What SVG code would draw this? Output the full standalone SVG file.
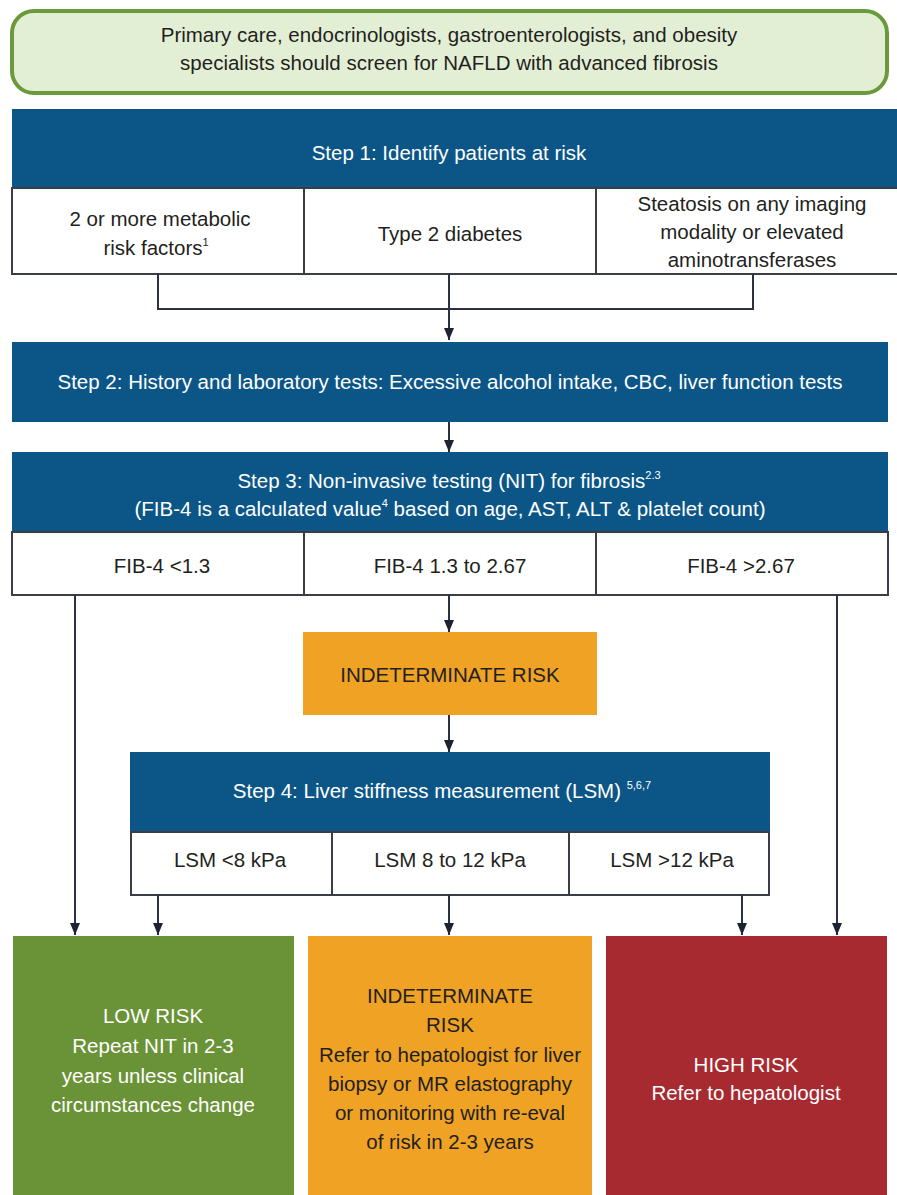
<svg xmlns="http://www.w3.org/2000/svg" width="897" height="1195" viewBox="0 0 897 1195">
<style>
text{font-family:"Liberation Sans",Arial,sans-serif;font-size:20.5px;text-anchor:middle}
.w{fill:#ffffff}
.d{fill:#231f20}
.blue{fill:#0b5687}
.cell{fill:#ffffff;stroke:#3a3d45;stroke-width:2}
.con{fill:none;stroke:#2b3140;stroke-width:2}
.sup{font-size:11px}
</style>
<defs>
<marker id="ah" viewBox="0 0 12 10" refX="12" refY="5" markerWidth="12" markerHeight="10" markerUnits="userSpaceOnUse" orient="auto">
<path d="M0,0 L12,5 L0,10 Z" fill="#1c2333"/>
</marker>
</defs>
<rect width="897" height="1195" fill="#ffffff"/>

<g id="screen">
<rect x="12" y="11" width="875" height="82" rx="22" fill="#e3efd5" stroke="#6a9a3c" stroke-width="4"/>
<text x="449" y="42" class="d">Primary care, endocrinologists, gastroenterologists, and obesity</text>
<text x="449" y="70" class="d">specialists should screen for NAFLD with advanced fibrosis</text>
</g>

<g id="step1">
<rect x="12" y="109" width="890" height="80" class="blue"/>
<text x="449" y="160" class="w">Step 1: Identify patients at risk</text>
<rect x="12" y="188" width="292" height="86" class="cell"/>
<rect x="304" y="188" width="292" height="86" class="cell"/>
<rect x="596" y="188" width="306" height="86" class="cell"/>
<text x="160" y="226" class="d">2 or more metabolic</text>
<text x="156" y="255" class="d">risk factors<tspan class="sup" dy="-9">1</tspan></text>
<text x="450" y="241" class="d">Type 2 diabetes</text>
<text x="752" y="211" class="d">Steatosis on any imaging</text>
<text x="752" y="239" class="d">modality or elevated</text>
<text x="752" y="267" class="d">aminotransferases</text>
</g>

<g id="step2">
<rect x="12" y="342" width="876" height="80" class="blue"/>
<text x="450" y="389" class="w">Step 2: History and laboratory tests: Excessive alcohol intake, CBC, liver function tests</text>
</g>

<g id="step3">
<rect x="12" y="452" width="876" height="80" class="blue"/>
<text x="449" y="488" class="w">Step 3: Non-invasive testing (NIT) for fibrosis<tspan class="sup" dy="-9">2.3</tspan></text>
<text x="450" y="516" class="w">(FIB-4 is a calculated value<tspan class="sup" dy="-9">4</tspan><tspan dy="9"> based on age, AST, ALT &amp; platelet count)</tspan></text>
<rect x="12" y="532" width="292" height="63" class="cell"/>
<rect x="304" y="532" width="292" height="63" class="cell"/>
<rect x="596" y="532" width="292" height="63" class="cell"/>
<text x="162" y="573" class="d">FIB-4 &lt;1.3</text>
<text x="450" y="573" class="d">FIB-4 1.3 to 2.67</text>
<text x="741" y="573" class="d">FIB-4 &gt;2.67</text>
</g>

<g id="indeterminate1">
<rect x="303" y="632" width="294" height="83" fill="#f0a224"/>
<text x="450" y="682" class="d">INDETERMINATE RISK</text>
</g>

<g id="step4">
<rect x="130" y="752" width="640" height="80" class="blue"/>
<text x="442" y="798" class="w">Step 4: Liver stiffness measurement (LSM) <tspan class="sup" dy="-9">5,6,7</tspan></text>
<rect x="131" y="832" width="201" height="63" class="cell"/>
<rect x="332" y="832" width="237" height="63" class="cell"/>
<rect x="569" y="832" width="200" height="63" class="cell"/>
<text x="230" y="867" class="d">LSM &lt;8 kPa</text>
<text x="450" y="867" class="d">LSM 8 to 12 kPa</text>
<text x="672" y="867" class="d">LSM &gt;12 kPa</text>
</g>

<g id="low">
<rect x="13" y="936" width="281" height="265" fill="#6a9236"/>
<text x="153" y="1023" class="w">LOW RISK</text>
<text x="153" y="1053" class="w">Repeat NIT in 2-3</text>
<text x="153" y="1083" class="w">years unless clinical</text>
<text x="153" y="1112" class="w">circumstances change</text>
</g>

<g id="indeterminate2">
<rect x="308" y="936" width="284" height="265" fill="#f0a224"/>
<text x="450" y="1003" class="d">INDETERMINATE</text>
<text x="450" y="1032" class="d">RISK</text>
<text x="450" y="1062" class="d">Refer to hepatologist for liver</text>
<text x="450" y="1091" class="d">biopsy or MR elastography</text>
<text x="450" y="1120" class="d">or monitoring with re-eval</text>
<text x="450" y="1149" class="d">of risk in 2-3 years</text>
</g>

<g id="high">
<rect x="606" y="936" width="281" height="265" fill="#a72a31"/>
<text x="746" y="1072" class="w">HIGH RISK</text>
<text x="746" y="1100" class="w">Refer to hepatologist</text>
</g>

<g id="connectors">
<path class="con" d="M158,274 V309 H753 V274"/>
<path class="con" d="M449,274 V340" marker-end="url(#ah)"/>
<path class="con" d="M449,422 V452" marker-end="url(#ah)"/>
<path class="con" d="M75,595 V935" marker-end="url(#ah)"/>
<path class="con" d="M449,595 V632" marker-end="url(#ah)"/>
<path class="con" d="M837,595 V935" marker-end="url(#ah)"/>
<path class="con" d="M449,715 V752" marker-end="url(#ah)"/>
<path class="con" d="M158,895 V935" marker-end="url(#ah)"/>
<path class="con" d="M449,895 V935" marker-end="url(#ah)"/>
<path class="con" d="M742,895 V935" marker-end="url(#ah)"/>
</g>
</svg>
